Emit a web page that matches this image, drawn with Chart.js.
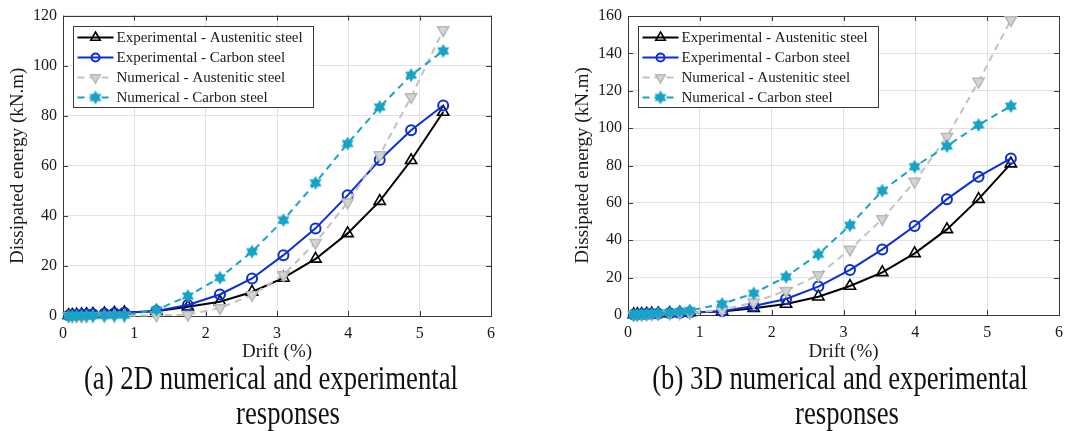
<!DOCTYPE html>
<html>
<head>
<meta charset="utf-8">
<script src="https://cdn.jsdelivr.net/npm/chart.js@4/dist/chart.umd.min.js"></script>
<style>
  html, body { margin: 0; padding: 0; background: #fff; }
  body { width: 1072px; height: 431px; position: relative; overflow: hidden; }
  canvas { position: absolute; top: 0; }
  #chart2d { left: 0; }
  #chart3d { left: 540px; }
  .cap {
    position: absolute;
    width: 600px;
    text-align: center;
    font-family: 'Liberation Serif', 'Times New Roman', serif;
    font-size: 33px;
    line-height: 33px;
    color: #111;
    white-space: nowrap;
    transform: scaleX(0.81);
    transform-origin: center;
  }
</style>
</head>
<body>
<canvas id="chart2d" width="540" height="365"></canvas>
<canvas id="chart3d" width="532" height="365"></canvas>

<div class="cap" style="left:-29px; top:362px;">(a) 2D numerical and experimental</div>
<div class="cap" style="left:-12px; top:397px;">responses</div>
<div class="cap" style="left:540px; top:362px;">(b) 3D numerical and experimental</div>
<div class="cap" style="left:547px; top:397px;">responses</div>

<script>
(function () {
  'use strict';

  // drift levels (%)
  const DRIFT = [0.08, 0.13, 0.19, 0.26, 0.33, 0.42, 0.58, 0.72, 0.86, 1.31, 1.75, 2.2, 2.65, 3.09, 3.54, 3.99, 4.44, 4.88, 5.33];

  // (a) 2D
  const EXP_AUST_2D = [0.3, 0.4, 0.5, 0.6, 0.7, 0.8, 1.0, 1.2, 1.4, 1.9, 3.7, 5.7, 9.6, 15.2, 22.8, 33.0, 45.9, 62.2, 81.5];
  const EXP_CARB_2D = [0.2, 0.3, 0.4, 0.5, 0.6, 0.7, 0.9, 1.1, 1.3, 2.0, 4.4, 8.6, 15.0, 24.3, 35.0, 48.2, 62.3, 74.2, 84.1];
  const NUM_AUST_2D = [0.0, 0.0, 0.0, 0.0, 0.0, 0.0, 0.1, 0.1, 0.1, 0.3, 0.5, 3.2, 8.4, 16.4, 29.3, 45.4, 64.3, 87.5, 114.2];
  const NUM_CARB_2D = [0.0, 0.0, 0.1, 0.1, 0.1, 0.2, 0.2, 0.3, 0.4, 2.4, 8.0, 15.3, 25.7, 38.3, 53.2, 68.9, 83.5, 96.2, 105.9];

  // (b) 3D
  const EXP_AUST_3D = [0.3, 0.4, 0.5, 0.6, 0.7, 0.8, 1.0, 1.2, 1.4, 1.9, 3.6, 5.9, 9.8, 15.5, 22.8, 33.0, 45.8, 62.0, 81.0];
  const EXP_CARB_3D = [0.2, 0.3, 0.4, 0.5, 0.6, 0.7, 0.9, 1.1, 1.3, 2.0, 4.8, 8.6, 15.2, 24.1, 35.1, 47.6, 62.0, 74.0, 83.8];
  const NUM_AUST_3D = [0.1, 0.2, 0.3, 0.4, 0.5, 0.6, 0.8, 1.0, 1.2, 2.7, 6.8, 13.0, 21.4, 35.1, 51.4, 71.4, 95.4, 124.9, 157.9];
  const NUM_CARB_3D = [0.1, 0.2, 0.3, 0.5, 0.7, 0.9, 1.3, 1.8, 2.4, 5.9, 11.6, 20.5, 32.5, 48.0, 66.5, 79.4, 90.4, 101.7, 111.8];

  const SERIES_LABELS = [
    'Experimental - Austenitic steel',
    'Experimental - Carbon steel',
    'Numerical - Austenitic steel',
    'Numerical - Carbon steel'
  ];

  const X_TICKS = [0, 1, 2, 3, 4, 5, 6];
  const Y_TICKS_2D = [0, 20, 40, 60, 80, 100, 120];
  const Y_TICKS_3D = [0, 20, 40, 60, 80, 100, 120, 140, 160];

  const SERIF = "'Liberation Serif', 'Times New Roman', serif";
  const AXIS_COLOR = '#3a3a3a';
  const TEXT_COLOR = '#1a1a1a';

  function hexagram(color, r) {
    const c = document.createElement('canvas');
    const s = Math.ceil(r * 2 + 2);
    c.width = s;
    c.height = s;
    const g = c.getContext('2d');
    const cx = s / 2, cy = s / 2;
    g.fillStyle = color;
    [0, Math.PI].forEach((off) => {
      g.beginPath();
      for (let i = 0; i < 3; i++) {
        const a = off - Math.PI / 2 + i * 2 * Math.PI / 3;
        const px = cx + Math.cos(a) * r, py = cy + Math.sin(a) * r;
        if (i === 0) g.moveTo(px, py); else g.lineTo(px, py);
      }
      g.closePath();
      g.fill();
    });
    return c;
  }

  const STAR = hexagram('#17a3c6', 7);

  function pts(ys) {
    return DRIFT.map((x, i) => ({ x: x, y: ys[i] }));
  }

  function makeDatasets(expA, expC, numA, numC) {
    return [
      {
        label: SERIES_LABELS[0], data: pts(expA), order: 4,
        borderColor: '#000000', backgroundColor: 'rgba(0,0,0,0)', borderWidth: 2,
        pointStyle: 'triangle', pointRadius: 6.5, pointBorderWidth: 1.6,
        pointBorderColor: '#000000', pointBackgroundColor: 'rgba(0,0,0,0)'
      },
      {
        label: SERIES_LABELS[1], data: pts(expC), order: 3,
        borderColor: '#0b2fd6', backgroundColor: 'rgba(0,0,0,0)', borderWidth: 2,
        pointStyle: 'circle', pointRadius: 5, pointBorderWidth: 2,
        pointBorderColor: '#0b2fd6', pointBackgroundColor: 'rgba(0,0,0,0)'
      },
      {
        label: SERIES_LABELS[2], data: pts(numA), order: 2,
        borderColor: '#c2c2c2', backgroundColor: 'rgba(0,0,0,0)', borderWidth: 2, borderDash: [7, 5],
        pointStyle: 'triangle', rotation: 180, pointRadius: 6.5, pointBorderWidth: 1.5,
        pointBorderColor: '#b8b8b8', pointBackgroundColor: '#d4d4d4'
      },
      {
        label: SERIES_LABELS[3], data: pts(numC), order: 1,
        borderColor: '#17a3c6', backgroundColor: 'rgba(0,0,0,0)', borderWidth: 2, borderDash: [7, 5],
        pointStyle: STAR, pointRadius: 7, pointBorderWidth: 0,
        pointBorderColor: '#17a3c6', pointBackgroundColor: '#17a3c6'
      }
    ].map((d) => Object.assign(d, { clip: false, tension: 0, fill: false }));
  }

  // box + inward tick marks like the original figure
  const framePlugin = {
    id: 'frame',
    beforeDatasetsDraw(chart) {
      const { ctx, chartArea: a, scales } = chart;
      ctx.save();
      ctx.strokeStyle = AXIS_COLOR;
      ctx.lineWidth = 1;
      ctx.strokeRect(Math.round(a.left) + 0.5, Math.round(a.top) + 0.5,
        Math.round(a.right - a.left), Math.round(a.bottom - a.top));
      const L = 5;
      ctx.beginPath();
      scales.x.ticks.forEach((t) => {
        const px = Math.round(scales.x.getPixelForValue(t.value)) + 0.5;
        ctx.moveTo(px, a.bottom); ctx.lineTo(px, a.bottom - L);
        ctx.moveTo(px, a.top); ctx.lineTo(px, a.top + L);
      });
      scales.y.ticks.forEach((t) => {
        const py = Math.round(scales.y.getPixelForValue(t.value)) + 0.5;
        ctx.moveTo(a.left, py); ctx.lineTo(a.left + L, py);
        ctx.moveTo(a.right, py); ctx.lineTo(a.right - L, py);
      });
      ctx.stroke();
      ctx.restore();
    }
  };

  // boxed legend inside the plot, line sample with marker
  const boxLegendPlugin = {
    id: 'boxLegend',
    afterDatasetsDraw(chart) {
      const { ctx, chartArea: a } = chart;
      const x0 = Math.round(a.left) + 10.5, y0 = Math.round(a.top) + 10.5;
      const w = 240, h = 81;
      ctx.save();
      ctx.fillStyle = '#ffffff';
      ctx.fillRect(x0, y0, w, h);
      ctx.strokeStyle = AXIS_COLOR;
      ctx.lineWidth = 1;
      ctx.strokeRect(x0, y0, w, h);
      const rows = [11, 31, 51, 71];
      chart.data.datasets.forEach((ds, i) => {
        const y = y0 + rows[i];
        ctx.save();
        ctx.strokeStyle = ds.borderColor;
        ctx.lineWidth = ds.borderWidth;
        ctx.setLineDash(ds.borderDash || []);
        ctx.beginPath();
        ctx.moveTo(x0 + 4, y);
        ctx.lineTo(x0 + 40, y);
        ctx.stroke();
        ctx.setLineDash([]);
        ctx.fillStyle = ds.pointBackgroundColor;
        ctx.strokeStyle = ds.pointBorderColor;
        ctx.lineWidth = ds.pointBorderWidth;
        Chart.helpers.drawPoint(ctx, {
          pointStyle: ds.pointStyle,
          rotation: ds.rotation || 0,
          radius: ds.pointRadius - 1,
          borderWidth: ds.pointBorderWidth
        }, x0 + 22, y);
        ctx.restore();
        ctx.fillStyle = TEXT_COLOR;
        ctx.font = '15px ' + SERIF;
        ctx.textBaseline = 'middle';
        ctx.textAlign = 'left';
        ctx.fillText(ds.label, x0 + 43, y + 1);
      });
      ctx.restore();
    }
  };

  function makeChart(id, datasets, yTicks, pad) {
    const yMax = yTicks[yTicks.length - 1];
    return new Chart(document.getElementById(id).getContext('2d'), {
      type: 'line',
      data: { datasets: datasets },
      plugins: [framePlugin, boxLegendPlugin],
      options: {
        responsive: false,
        animation: false,
        events: [],
        layout: { padding: pad },
        plugins: { legend: { display: false }, tooltip: { enabled: false } },
        scales: {
          x: {
            type: 'linear',
            min: X_TICKS[0],
            max: X_TICKS[X_TICKS.length - 1],
            afterBuildTicks: (axis) => { axis.ticks = X_TICKS.map((v) => ({ value: v })); },
            afterFit: (axis) => { axis.height = pad.xHeight; },
            grid: { color: '#e2e2e2', lineWidth: 1, drawTicks: false },
            border: { display: false },
            ticks: { color: TEXT_COLOR, font: { family: SERIF, size: 16 }, padding: 8, maxRotation: 0 },
            title: {
              display: true, text: 'Drift (%)', color: TEXT_COLOR,
              font: { family: SERIF, size: 19 }, padding: { top: 0, bottom: 2 }
            }
          },
          y: {
            type: 'linear',
            min: yTicks[0],
            max: yMax,
            afterBuildTicks: (axis) => { axis.ticks = yTicks.map((v) => ({ value: v })); },
            afterFit: (axis) => { axis.width = 63; },
            grid: { color: '#e2e2e2', lineWidth: 1, drawTicks: false },
            border: { display: false },
            ticks: { color: TEXT_COLOR, font: { family: SERIF, size: 16 }, padding: 6 },
            title: {
              display: true, text: 'Dissipated energy (kN.m)', color: TEXT_COLOR,
              font: { family: SERIF, size: 19 }, padding: { top: 7, bottom: 0 }
            }
          }
        }
      }
    });
  }

  makeChart('chart2d', makeDatasets(EXP_AUST_2D, EXP_CARB_2D, NUM_AUST_2D, NUM_CARB_2D), Y_TICKS_2D,
    { left: 0, right: 49, top: 15, bottom: 0, xHeight: 49 });
  makeChart('chart3d', makeDatasets(EXP_AUST_3D, EXP_CARB_3D, NUM_AUST_3D, NUM_CARB_3D), Y_TICKS_3D,
    { left: 25, right: 13, top: 16, bottom: 0, xHeight: 50 });
})();
</script>
</body>
</html>
